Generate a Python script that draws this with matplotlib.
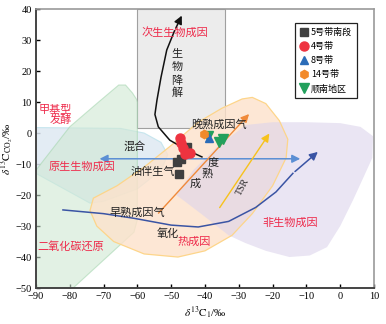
import matplotlib
matplotlib.use('Agg')
import matplotlib.pyplot as plt
from matplotlib.patches import Polygon, Rectangle
import numpy as np

plt.rcParams['font.family'] = ['Noto Sans CJK SC', 'DejaVu Sans']
plt.rcParams['mathtext.fontset'] = 'stix'

# data points (delta13C1, delta13C_CO2)
band5_x = [-45.4, -47.2, -48.2, -47.7]
band5_y = [-4.4, -8.5, -9.3, -13.2]
band4_x = [-47.3, -47.0, -46.6, -45.8, -44.3]
band4_y = [-1.5, -3.2, -4.8, -6.6, -6.3]
band8_x = [-38.7]
band8_y = [-1.7]
band14_x = [-40.2]
band14_y = [-0.3]
shunnan_x = [-39.2, -35.8, -34.8]
shunnan_y = [-0.9, -2.8, -2.0]

# region outlines
green_x = [-65.5, -63.5, -61.5, -60.3, -60, -60, -61, -65, -72, -79, -93, -93, -90, -80, -72]
green_y = [15.5, 15.5, 13, 11, 10, -28, -32, -36, -43, -50, -50, -14, -12, 2, 9.5]
blue_x = [-93, -65, -58, -53, -51, -53, -60, -70, -74, -80, -90, -93]
blue_y = [1.8, 1.5, 0, -3, -7, -12, -18, -22, -22.6, -19, -13, -12]
orange_x = [-74, -73, -66, -58, -50, -42, -35, -29, -26, -22, -18, -15.5, -16, -20, -26, -32, -40, -48, -58, -67, -72]
orange_y = [-25, -21, -17, -11, -4, 3.5, 8, 11, 11.5, 9.5, 4, -2, -8, -17, -26, -33, -38, -40, -39, -35, -30]
purple_x = [-28, -20, -10, 0, 6, 9.7, 9.5, 7, 3.8, 0, -3.9, -9, -15, -22, -28, -33, -40, -46, -48.5, -43.5, -36, -31]
purple_y = [2.6, 3.5, 3.5, 3.2, 2, -1, -8, -14, -21.6, -30, -36.8, -39.5, -40, -38, -35.5, -33, -27, -22, -20, -12, -4, 0]

# arrows
bio_x = [-40.9, -45.3, -50.4, -53.8, -54.8, -54.2, -53, -51.3, -49, -46.5]
bio_y = [-7.7, -5.5, -2.3, 2, 6, 10.6, 18, 26.8, 33, 38.7]
oxi_x = [-82, -70, -61, -50, -42, -33, -25, -19, -14, -6]
oxi_y = [-24.8, -26, -27.5, -29.7, -30.3, -28.5, -24, -19, -13, -5.5]

fig = plt.figure(figsize=(3.86, 3.24), dpi=100)
ax = fig.add_axes([0.093, 0.111, 0.876, 0.861])
ax.set_xlim(-90, 10)
ax.set_ylim(-50, 40)

ax.add_patch(Rectangle((-60, 1.5), 26, 38.5, facecolor='#ececec', edgecolor='#a0a0a0', lw=0.8, zorder=1))
ax.add_patch(Polygon(np.column_stack([blue_x, blue_y]), closed=True, facecolor='#dfe9f3', edgecolor='#bfe3ec', lw=0.8, alpha=0.85, zorder=2))
ax.add_patch(Polygon(np.column_stack([green_x, green_y]), closed=True, facecolor='#cfe8d3', edgecolor='#a6d6b0', lw=0.8, alpha=0.6, zorder=2))
ax.add_patch(Polygon(np.column_stack([orange_x, orange_y]), closed=True, facecolor='#fde2cb', edgecolor='none', alpha=0.8, zorder=3))
ax.add_patch(Polygon(np.column_stack([purple_x, purple_y]), closed=True, facecolor='#dcd4ec', edgecolor='none', alpha=0.6, zorder=3))
ax.add_patch(Polygon(np.column_stack([orange_x, orange_y]), closed=True, facecolor='none', edgecolor='#fdd58a', lw=0.9, zorder=3))

# biodegradation arrow
ax.plot(bio_x[:-1], bio_y[:-1], color='#111111', lw=1.1, zorder=5)
ax.annotate('', xy=(bio_x[-1], bio_y[-1]), xytext=(bio_x[-2], bio_y[-2]),
            arrowprops=dict(arrowstyle='-|>', color='#111111', lw=1.1, mutation_scale=12), zorder=5)
# oxidation arrow
ax.plot(oxi_x[:-1], oxi_y[:-1], color='#3a54a4', lw=1.1, zorder=5)
ax.annotate('', xy=(oxi_x[-1], oxi_y[-1]), xytext=(oxi_x[-2], oxi_y[-2]),
            arrowprops=dict(arrowstyle='-|>', color='#3a54a4', lw=1.1, mutation_scale=12), zorder=5)
# horizontal double arrow
ax.annotate('', xy=(-72, -8.3), xytext=(-11, -8.3),
            arrowprops=dict(arrowstyle='<|-|>', color='#5b8fd4', lw=1.1, mutation_scale=12), zorder=5)
# maturity arrow
ax.annotate('', xy=(-26.4, 6.8), xytext=(-54.3, -26.5),
            arrowprops=dict(arrowstyle='-|>', color='#f08a3a', lw=1.0, mutation_scale=12), zorder=5)
# TSR arrow
ax.annotate('', xy=(-20.5, 0.6), xytext=(-36.1, -24.8),
            arrowprops=dict(arrowstyle='-|>', color='#f7c21c', lw=1.0, mutation_scale=12), zorder=5)

ms = 5.5
ax.plot(band5_x, band5_y, 's', color='#3f3f3f', ms=ms, ls='none', label='5号带南段', zorder=6)
ax.plot(band4_x, band4_y, 'o', color='#ee3340', ms=ms + 1, ls='none', label='4号带', zorder=6)
ax.plot(band8_x, band8_y, '^', color='#2b6cb8', ms=ms, ls='none', label='8号带', zorder=7)
ax.plot(band14_x, band14_y, 'h', color='#f28a2b', ms=ms + 0.5, ls='none', label='14号带', zorder=7)
ax.plot(shunnan_x, shunnan_y, 'v', color='#22a05c', ms=ms + 1, ls='none', label='顺南地区', zorder=6)

red = '#ee2a4a'
fs = 8
ax.text(-58.8, 32.6, '次生生物成因', color=red, fontsize=fs, va='center', zorder=8)
for ch, yy in zip('生物降解', [25.8, 21.3, 17, 12.9]):
    ax.text(-48.3, yy, ch, color='#222222', fontsize=fs, ha='center', va='center', zorder=8)
ax.text(-79.3, 5.8, '甲基型\n发酵', color=red, fontsize=fs, ha='right', va='center', linespacing=1.0, multialignment='right', zorder=8)
ax.text(-76.5, -11, '原生生物成因', color=red, fontsize=fs, ha='center', va='center', zorder=8)
ax.text(-60.7, -4.5, '混合', color='#222222', fontsize=fs, ha='center', va='center', zorder=8)
ax.text(-55.3, -12.6, '油伴生气', color='#222222', fontsize=fs, ha='center', va='center', zorder=8)
ax.text(-35.8, 2.8, '晚熟成因气', color='#222222', fontsize=fs, ha='center', va='center', zorder=8)
for ch, xx, yy in zip('度熟成', [-37.6, -39.4, -43], [-9.7, -13, -16.5]):
    ax.text(xx, yy, ch, color='#222222', fontsize=fs, ha='center', va='center', zorder=8)
ax.text(-28.8, -17.4, 'TSR', color='#222222', fontsize=7, family='Liberation Serif', rotation=62, ha='center', va='center', zorder=8)
ax.text(-60, -25.5, '早熟成因气', color='#222222', fontsize=fs, ha='center', va='center', zorder=8)
ax.text(-51, -32.3, '氧化', color='#222222', fontsize=fs, ha='center', va='center', zorder=8)
ax.text(-43.2, -35, '热成因', color=red, fontsize=fs, ha='center', va='center', zorder=8)
ax.text(-14.7, -29, '非生物成因', color=red, fontsize=fs, ha='center', va='center', zorder=8)
ax.text(-79.7, -36.4, '二氧化碳还原', color=red, fontsize=fs, ha='center', va='center', zorder=8)

ax.set_xticks(np.arange(-90, 11, 10))
ax.set_yticks(np.arange(-50, 41, 10))
ax.tick_params(direction='in', length=3, width=1, labelsize=7.5, pad=3)
for lab in ax.get_xticklabels() + ax.get_yticklabels():
    lab.set_family('Liberation Serif')
for side in ['left', 'bottom']:
    ax.spines[side].set_color('#444444')
    ax.spines[side].set_linewidth(1.4)
for side in ['right', 'top']:
    ax.spines[side].set_color('#9a9a9a')
    ax.spines[side].set_linewidth(1.2)

ax.set_xlabel(r'$\delta^{13}\mathrm{C}_1$/‰', family='Liberation Serif', fontsize=8, labelpad=2)
ax.set_ylabel(r'$\delta^{13}\mathrm{C}_{\mathrm{CO}_2}$/‰', family='Liberation Serif', fontsize=8, labelpad=0)

leg = ax.legend(loc='upper right', bbox_to_anchor=(0.962, 0.965), fontsize=6.5, frameon=True,
                fancybox=False, edgecolor='#222222', framealpha=1, handletextpad=0.3,
                handlelength=1.0, borderpad=0.5, labelspacing=0.55)
leg.get_frame().set_linewidth(0.9)
leg.set_zorder(10)

fig.savefig('out.png', dpi=100)
